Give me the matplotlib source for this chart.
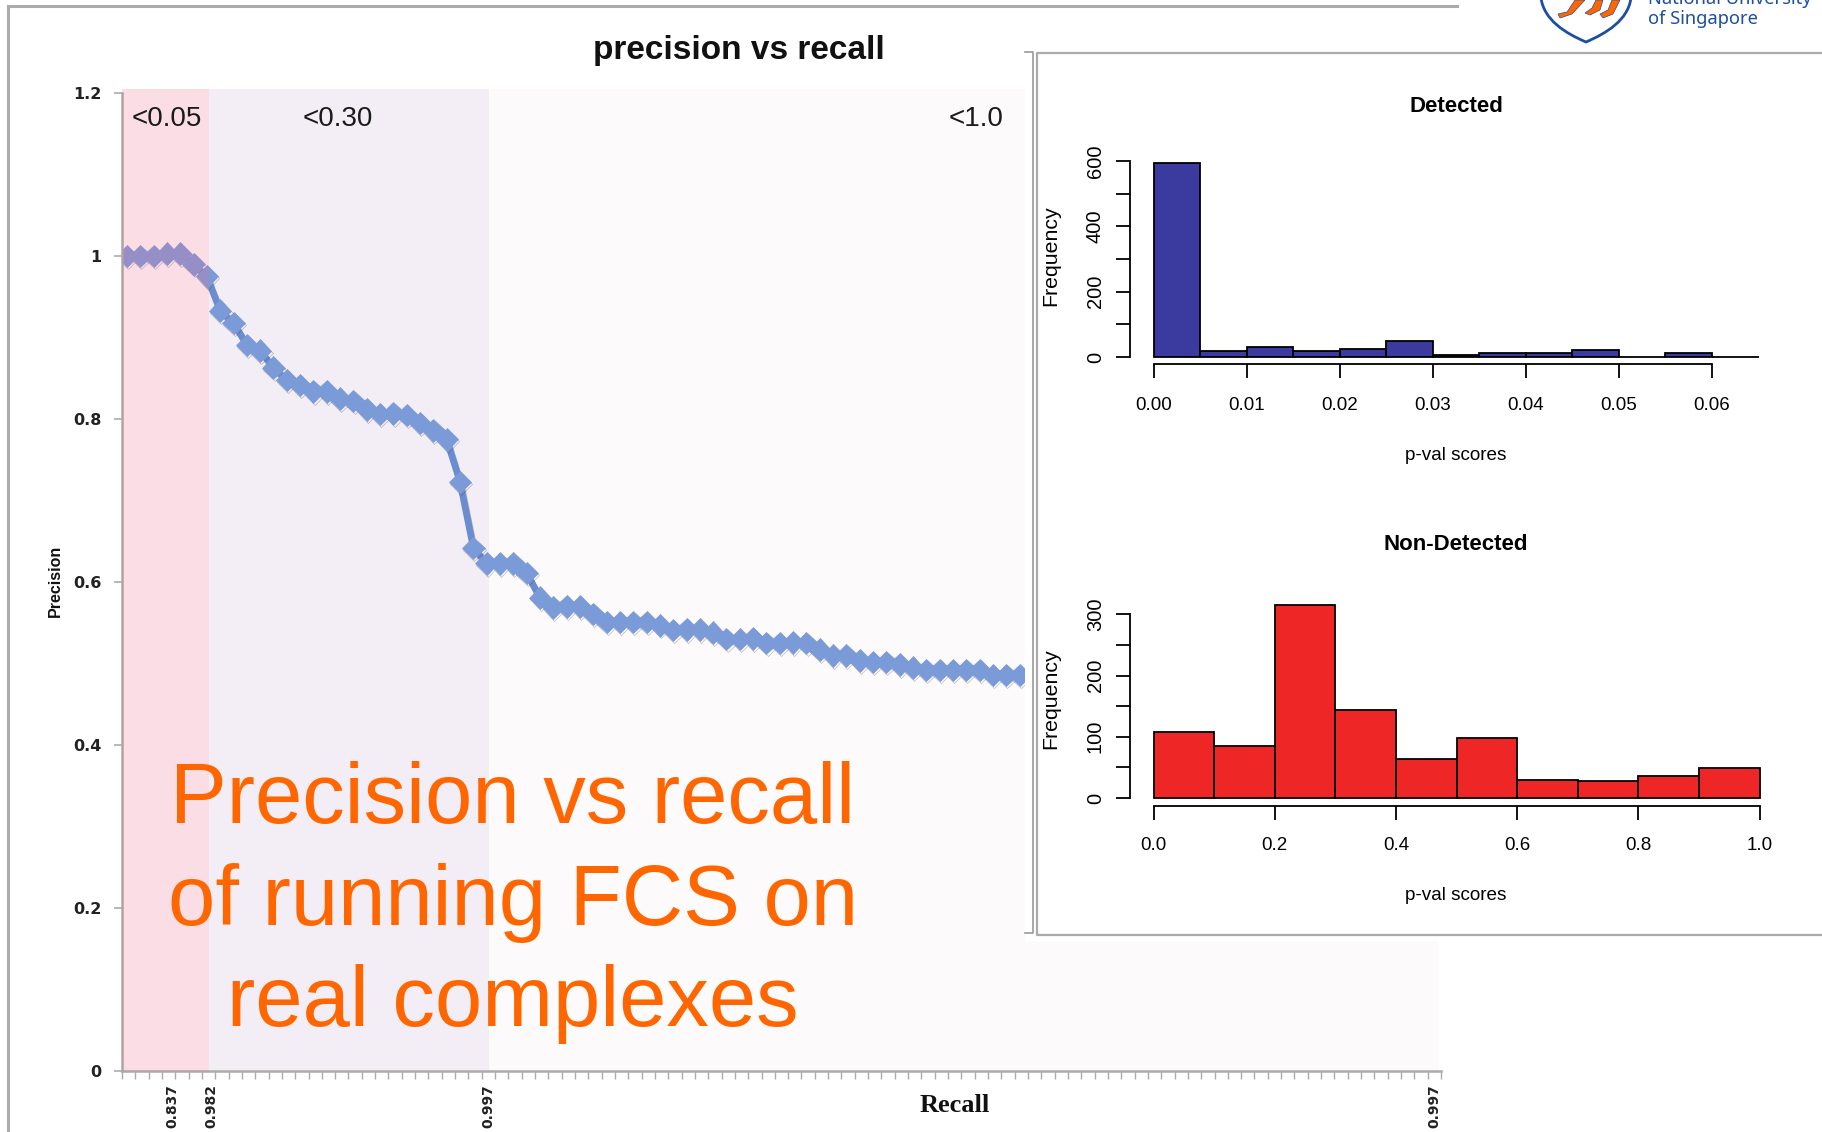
import matplotlib
matplotlib.use("Agg")
import matplotlib.pyplot as plt
import matplotlib.patheffects as pe
from matplotlib.patches import PathPatch, Polygon, Rectangle
from matplotlib.path import Path

W, H = 1822, 1132

# main chart
precision = [1.0, 1.0, 1.0, 1.003, 1.003, 0.99, 0.975, 0.933, 0.918, 0.891, 0.884, 0.863,
             0.848, 0.842, 0.834, 0.834, 0.825, 0.822, 0.812, 0.806, 0.807, 0.805, 0.795,
             0.786, 0.775, 0.723, 0.642, 0.623, 0.623, 0.623, 0.611, 0.581, 0.569, 0.570,
             0.570, 0.561, 0.551, 0.551, 0.551, 0.551, 0.547, 0.541, 0.542, 0.542, 0.538,
             0.530, 0.530, 0.531, 0.525, 0.525, 0.526, 0.525, 0.517, 0.510, 0.510, 0.504,
             0.502, 0.502, 0.499, 0.495, 0.492, 0.492, 0.492, 0.492, 0.492, 0.486, 0.486,
             0.486, 0.486]
n_categories = 99
recall_tick_pos = [3.3, 6.2, 27, 98]
recall_tick_labels = ["0.837", "0.982", "0.997", "0.997"]
precision_ticks = [0, 0.2, 0.4, 0.6, 0.8, 1, 1.2]
precision_tick_labels = ["0", "0.2", "0.4", "0.6", "0.8", "1", "1.2"]
band_edges = [-0.5, 6.0, 27.05, 98.35]
band_labels = ["<0.05", "<0.30", "<1.0"]
band_label_pos = [2.9, 15.7, 63.6]

# histograms
detected_edges = [0.0, 0.005, 0.01, 0.015, 0.02, 0.025, 0.03, 0.035, 0.04, 0.045, 0.05,
                  0.055, 0.06, 0.065]
detected_counts = [595, 18, 30, 18, 24, 49, 6, 12, 12, 20, 0, 12, 0]
detected_xticks = [0.0, 0.01, 0.02, 0.03, 0.04, 0.05, 0.06]
detected_yticks = [0, 100, 200, 300, 400, 500, 600]
nondetected_edges = [0.0, 0.1, 0.2, 0.3, 0.4, 0.5, 0.6, 0.7, 0.8, 0.9, 1.0]
nondetected_counts = [107, 85, 315, 144, 64, 98, 30, 27, 36, 49]
nondetected_xticks = [0.0, 0.2, 0.4, 0.6, 0.8, 1.0]
nondetected_yticks = [0, 50, 100, 150, 200, 250, 300]

SANS = "Liberation Sans"
GREY = "#ababab"
ORANGE = "#ff6600"
NUS_BLUE = "#1c4fa0"


def px_rect(left, top, right, bottom):
    return [left / W, 1 - bottom / H, (right - left) / W, (bottom - top) / H]


def r_hist(fig, rect, edges, counts, colour, xticks, yticks, xfmt, ymax, xlim,
           title, title_y, xlabel_y, ylabel_y, x_out, x_pad):
    ax = fig.add_axes(px_rect(*rect), zorder=3)
    ax.patch.set_alpha(0)
    widths = [b - a for a, b in zip(edges[:-1], edges[1:])]
    ax.bar(edges[:-1], counts, width=widths, align="edge", color=colour,
           edgecolor="black", linewidth=1.3, clip_on=False)
    ax.set_xlim(*xlim)
    ax.set_ylim(0, ymax)
    for s in ["top", "right"]:
        ax.spines[s].set_visible(False)
    ax.spines["left"].set_position(("outward", 17))
    ax.spines["bottom"].set_position(("outward", x_out))
    ax.spines["left"].set_bounds(yticks[0], yticks[-1])
    ax.spines["bottom"].set_bounds(xticks[0], xticks[-1])
    for s in ["left", "bottom"]:
        ax.spines[s].set_linewidth(1.3)
    ax.set_xticks(xticks)
    ax.set_xticklabels([xfmt % t for t in xticks], fontsize=13.5, family=SANS)
    ax.set_yticks(yticks)
    ax.set_yticklabels([str(t) if t % (yticks[-1] // 3) == 0 else "" for t in yticks],
                       rotation=90, va="center", fontsize=14.5, family=SANS)
    ax.tick_params(axis="both", length=10, width=1.3)
    ax.tick_params(axis="x", pad=x_pad)
    ax.tick_params(axis="y", pad=8)
    page.text(1456, title_y, title, fontsize=16, fontweight="bold", family=SANS,
              ha="center", va="center")
    page.text(1456, xlabel_y, "p-val scores", fontsize=13.6, family=SANS,
              ha="center", va="center")
    page.text(1051, ylabel_y, "Frequency", fontsize=15.3, family=SANS, rotation=90,
              ha="center", va="center")
    return ax


fig = plt.figure(figsize=(W / 100, H / 100), dpi=100, facecolor="white")

# main precision/recall chart
ax = fig.add_axes(px_rect(122, 89, 1441, 1071), zorder=1)
ax.set_xlim(-0.5, n_categories - 0.5)
ax.set_ylim(0, 1.205)
ax.axvspan(band_edges[1], band_edges[2], color="#f3eef6", lw=0, zorder=0)
ax.axvspan(band_edges[2], band_edges[3], color="#fcfafb", lw=0, zorder=0)
# points sit a little left of the category centres in the original
ax.plot([i - 0.13 for i in range(len(precision))], precision, color="#6a8cd0", lw=4.8,
        marker="D", ms=11.5, mfc="#7b9ad8", mec="#7b9ad8", mew=0.5, zorder=2,
        path_effects=[pe.SimpleLineShadow(offset=(0.8, -1.4), shadow_color="#444444", alpha=0.35),
                      pe.Normal()])
# the pink band sits over the line and tints it
ax.axvspan(band_edges[0], band_edges[1], color="#ee6c93", alpha=0.23, lw=0, zorder=3)
for spine in ["top", "right"]:
    ax.spines[spine].set_visible(False)
for spine in ["left", "bottom"]:
    ax.spines[spine].set_color(GREY)
    ax.spines[spine].set_linewidth(1.8)
ax.spines["left"].set_bounds(0, 1.2)
ax.set_yticks(precision_ticks)
ax.set_yticklabels(precision_tick_labels, fontsize=11.5, fontweight="bold", color="#222222")
ax.tick_params(axis="y", length=6, width=1.2, color=GREY, pad=9)
ax.set_xticks([i - 0.5 for i in range(n_categories + 1)], minor=True)
ax.tick_params(axis="x", which="minor", length=6, width=1.0, color=GREY)
ax.set_xticks(recall_tick_pos)
ax.set_xticklabels(recall_tick_labels, rotation=90, fontsize=10, fontweight="bold",
                   color="#222222")
ax.tick_params(axis="x", which="major", length=0, pad=9.5)
for label, pos in zip(band_labels, band_label_pos):
    ax.text(pos, 1.168, label, fontsize=20, family=SANS, ha="center", va="center",
            color="#1a1a1a", zorder=4)

# page layer: frames, cover behind the inset, slide text, logo
page = fig.add_axes([0, 0, 1, 1], zorder=2)
page.set_xlim(0, W)
page.set_ylim(H, 0)
page.axis("off")
page.add_patch(Rectangle((1025, 0), W - 1025, 941, fc="white", ec="none"))
page.plot([8, 8], [H, 6], color=GREY, lw=2.2)
page.plot([8, 1457], [6, 6], color=GREY, lw=2.2)
page.plot([1025, 1033, 1033, 1025], [52, 52, 933, 933], color="#999999", lw=1.2)
page.plot([W, 1037, 1037, W], [53, 53, 935, 935], color=GREY, lw=1.6)

page.text(739, 50.5, "precision vs recall", fontsize=24, fontweight="bold", family=SANS,
          ha="center", va="center", color="#111111")
page.text(55, 581, "Precision", fontsize=11.5, fontweight="bold", family=SANS, rotation=90,
          ha="center", va="center", color="#111111")
page.text(955, 1106, "Recall", fontsize=19, fontweight="bold", family="Liberation Serif",
          ha="center", va="center", color="#111111")
for line, y in zip(["Precision vs recall", "of running FCS on", "real complexes"], [801, 903, 1004]):
    page.text(513, y, line, fontsize=61.2, family=SANS, color=ORANGE, ha="center", va="center")

shield = Path([(1541, -2), (1544, 20), (1565, 33), (1586, 42), (1607, 33), (1628, 20), (1631, -2)],
              [Path.MOVETO] + [Path.CURVE4] * 6)
page.add_patch(PathPatch(shield, fc="white", ec=NUS_BLUE, lw=2))
for foot in ([(1575, 0), (1585, 0), (1572, 14), (1560, 18), (1558, 14), (1567, 12)],
             [(1596, 0), (1603, 0), (1600, 10), (1590, 15), (1585, 13), (1592, 8)],
             [(1612, 0), (1620, 0), (1613, 14), (1603, 18), (1600, 14), (1608, 10)]):
    page.add_patch(Polygon(foot, closed=True, fc=ORANGE, ec=NUS_BLUE, lw=0.5))
page.text(1648, 4, "National University", fontsize=13.2, family="Noto Sans", color=NUS_BLUE,
          va="baseline")
page.text(1648, 24, "of Singapore", fontsize=13.2, family="Noto Sans", color=NUS_BLUE,
          va="baseline")

# inset histograms
r_hist(fig, (1153.5, 161, 1758.5, 357), detected_edges, detected_counts, "#3a3a9f",
       detected_xticks, detected_yticks, "%.2f", 600, (0, 0.065),
       "Detected", 106.5, 456, 256, 5, 13.5)
r_hist(fig, (1153.5, 602, 1759.6, 798), nondetected_edges, nondetected_counts, "#ee2626",
       nondetected_xticks, nondetected_yticks, "%.1f", 320, (0, 1.0),
       "Non-Detected", 545, 896, 699, 5.8, 12.5)

fig.savefig("out.png", dpi=100)
